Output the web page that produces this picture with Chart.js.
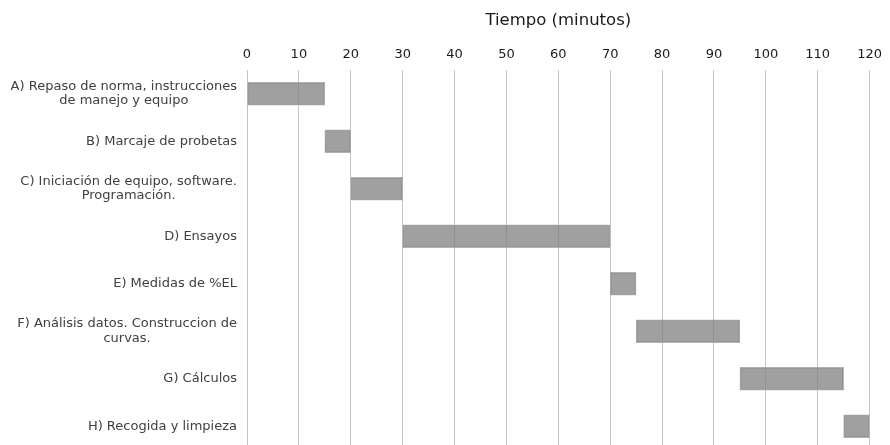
<!DOCTYPE html>
<html>
<head>
<meta charset="utf-8">
<script src="https://cdn.jsdelivr.net/npm/chart.js@4/dist/chart.umd.min.js"></script>
<style>
    html, body {
        margin: 0;
        padding: 0;
        background: #ffffff;
        overflow: hidden;
    }
    #wrap {
        position: relative;
        width: 890px;
        height: 450px;
    }
</style>
</head>
<body>

<div id="wrap">
    <canvas id="ganttChart"></canvas>
</div>

<script>

const tasks = [
    ["A) Repaso de norma, instrucciones", "de manejo y equipo"],
    "B) Marcaje de probetas",
    ["C) Iniciación de equipo, software.", "Programación."],
    "D) Ensayos",
    "E) Medidas de %EL",
    ["F) Análisis datos. Construccion de", "curvas."],
    "G) Cálculos",
    "H) Recogida y limpieza"
];

const startMinutes = [0, 15, 20, 30, 70, 75, 95, 115];
const endMinutes = [15, 20, 30, 70, 75, 95, 115, 120];

const xTicks = [0, 10, 20, 30, 40, 50, 60, 70, 80, 90, 100, 110, 120];

const fontName = "'DejaVu Sans', Verdana, sans-serif";

// task labels: block right-aligned, lines centred inside the block
const taskLabels = {
    id: "taskLabels",
    afterDraw(chart) {
        const scale = chart.scales.y;
        const c = chart.ctx;
        const right = scale.right - 10;
        const lineH = 14.3;
        c.save();
        c.font = "13px " + fontName;
        c.fillStyle = "#404040";
        c.textAlign = "center";
        c.textBaseline = "middle";
        chart.data.labels.forEach((label, i) => {
            const lines = [].concat(label);
            const maxW = Math.max(...lines.map(l => c.measureText(l).width));
            const y0 = scale.getPixelForTick(i) - (lines.length - 1) * lineH / 2;
            lines.forEach((l, k) => {
                c.fillText(l, right - maxW / 2, y0 + k * lineH);
            });
        });
        c.restore();
    }
};

function createChart() {

    const ctx = document.getElementById("ganttChart");

    const ranges = startMinutes.map((s, i) => [s, endMinutes[i]]);

    new Chart(ctx, {

        type: "bar",

        data: {
            labels: tasks,
            datasets: [{
                data: ranges,
                backgroundColor: "rgba(128,128,128,0.75)",
                borderColor: "rgba(170,170,170,0.9)",
                borderWidth: 1,
                borderSkipped: false,
                barThickness: 23
            }]
        },

        plugins: [taskLabels],

        options: {

            indexAxis: "y",
            responsive: true,
            maintainAspectRatio: false,
            animation: false,

            layout: {
                padding: { top: 0, right: 14, bottom: 0, left: 0 }
            },

            plugins: {
                legend: { display: false },
                tooltip: { enabled: false }
            },

            scales: {

                x: {
                    position: "top",
                    min: 0,
                    max: 120,
                    afterBuildTicks: (scale) => {
                        scale.ticks = xTicks.map(v => ({ value: v }));
                    },
                    afterFit: (scale) => {
                        scale.height = 70;
                    },
                    title: {
                        display: true,
                        text: "Tiempo (minutos)",
                        color: "#1a1a1a",
                        font: { family: fontName, size: 16.5 },
                        padding: { top: 11, bottom: 4 }
                    },
                    ticks: {
                        color: "#1a1a1a",
                        font: { family: fontName, size: 13 },
                        padding: 8,
                        maxRotation: 0
                    },
                    grid: {
                        color: "#c4c4c4",
                        lineWidth: 1,
                        drawTicks: false
                    },
                    border: { display: false }
                },

                y: {
                    afterFit: (scale) => {
                        scale.width = 247;
                        scale.paddingTop = 0;
                        scale.paddingBottom = 0;
                    },
                    ticks: {
                        display: false
                    },
                    grid: { display: false },
                    border: { display: false }
                }

            }

        }

    });

}

createChart();

</script>
</body>
</html>
